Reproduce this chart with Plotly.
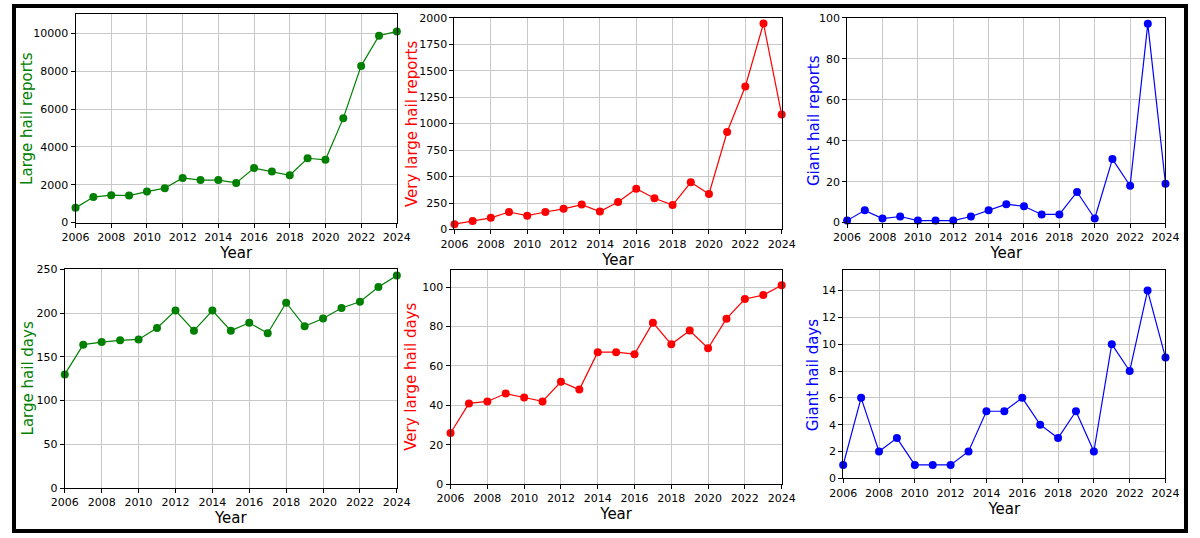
import plotly.graph_objects as go

years = list(range(2006, 2025))
large_reports = [780, 1350, 1450, 1430, 1640, 1820, 2360, 2250, 2250, 2100, 2880, 2700, 2500, 3400, 3320, 5520, 8280, 9870, 10100]
vlarge_reports = [50, 80, 110, 165, 130, 165, 195, 235, 170, 260, 385, 295, 230, 445, 335, 920, 1350, 1945, 1085]
giant_reports = [1, 6, 2, 3, 1, 1, 1, 3, 6, 9, 8, 4, 4, 15, 2, 31, 18, 97, 19]
large_days = [130, 164, 167, 169, 170, 183, 203, 180, 203, 180, 189, 177, 212, 185, 194, 206, 213, 230, 243]
vlarge_days = [26, 41, 42, 46, 44, 42, 52, 48, 67, 67, 66, 82, 71, 78, 69, 84, 94, 96, 101]
giant_days = [1, 6, 2, 3, 1, 1, 1, 2, 5, 5, 6, 4, 3, 5, 2, 10, 8, 14, 9]

panels = [
    (large_reports, "Large hail reports", "green", [63, 392], [8, 222], [0, 11030], 2000, 14),
    (vlarge_reports, "Very large hail reports", "red", [451, 786], [12, 229], [0, 2000], 250, 407),
    (giant_reports, "Giant hail reports", "blue", [853, 1179], [12, 222], [0, 100], 20, 819),
    (large_days, "Large hail days", "green", [52, 392], [270, 494], [0, 250], 50, 14),
    (vlarge_days, "Very large hail days", "red", [447, 786], [271, 490], [0, 108.5], 20, 407),
    (giant_days, "Giant hail days", "blue", [849, 1179], [271, 484], [0, 15.5], 2, 818),
]

W, H = 1200, 538
fig = go.Figure()
layout = {}
annotations = []
for i, (vals, title, col, xp, yp, yr, dt, tx) in enumerate(panels, start=1):
    xa = "x" if i == 1 else f"x{i}"
    ya = "y" if i == 1 else f"y{i}"
    fig.add_trace(go.Scatter(x=years, y=vals, mode="lines+markers", xaxis=xa, yaxis=ya,
                             line=dict(color=col, width=1.2), marker=dict(color=col, size=8),
                             cliponaxis=False, showlegend=False))
    common = dict(showline=True, mirror=True, linecolor="black", linewidth=1,
                  showgrid=True, gridcolor="#c8c8c8", gridwidth=1, zeroline=False,
                  ticks="outside", ticklen=4, tickcolor="black",
                  tickfont=dict(size=11, color="black"))
    layout[f"xaxis{'' if i == 1 else i}"] = dict(
        domain=[xp[0] / W, xp[1] / W], range=[2006, 2024], dtick=2, tick0=2006,
        anchor=ya, title=dict(text="Year", font=dict(size=15, color="black"), standoff=2), **common)
    layout[f"yaxis{'' if i == 1 else i}"] = dict(
        domain=[1 - yp[1] / H, 1 - yp[0] / H], range=yr, dtick=dt, tick0=0, tickformat="d",
        anchor=xa, **common)
    annotations.append(dict(text=title, x=tx / W, y=1 - (yp[0] + yp[1]) / 2 / H,
                            xref="paper", yref="paper", showarrow=False, textangle=-90,
                            xanchor="center", yanchor="middle",
                            font=dict(size=15, color=col)))

fig.update_layout(autosize=True, margin=dict(l=0, r=0, t=0, b=0),
                  paper_bgcolor="white", plot_bgcolor="white",
                  font=dict(family="DejaVu Sans"), annotations=annotations, **layout)
fig.add_shape(type="rect", xref="paper", yref="paper", x0=0, y0=0, x1=1, y1=1,
              line=dict(color="black", width=4))
fig.write_html("out.html", default_width="100%", default_height="100%",
               config={"displayModeBar": False, "responsive": True})
with open("out.html", encoding="utf-8") as f:
    html = f.read()
html = html.replace("<head>", "<head><style>html,body{margin:0;padding:0;overflow:hidden;width:100%;height:100%}</style>", 1)
with open("out.html", "w", encoding="utf-8") as f:
    f.write(html)
